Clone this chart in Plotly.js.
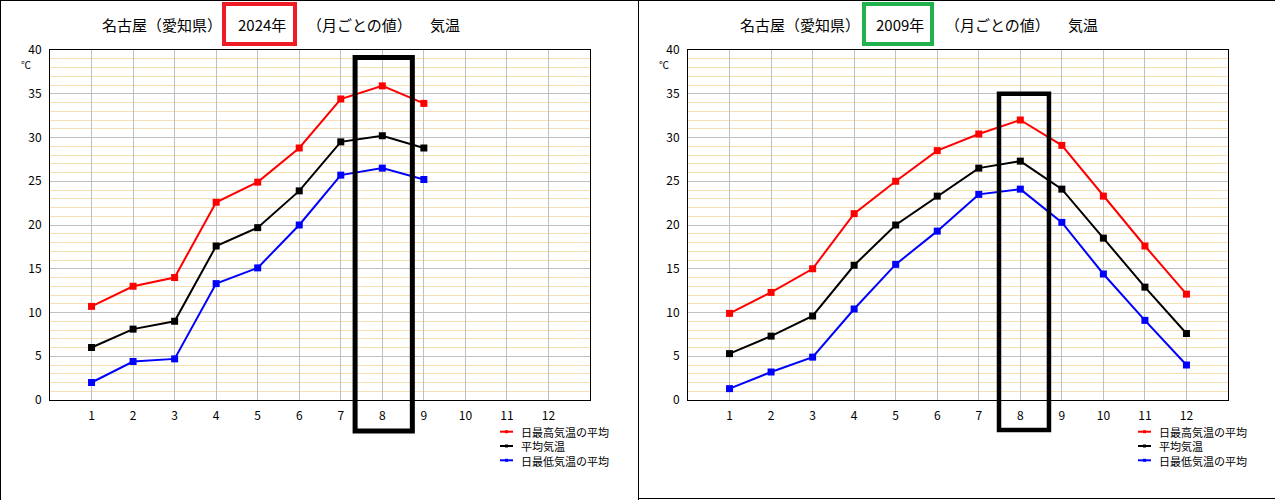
<!DOCTYPE html>
<html>
<head>
<meta charset="utf-8">
<script src="https://cdn.plot.ly/plotly-3.0.1.min.js"></script>
<style>html,body{margin:0;padding:0;background:#fff;}#chart{width:1275px;height:500px;}</style>
</head>
<body>
<div id="chart"></div>
<script>
// ---- data ----
const months = [1, 2, 3, 4, 5, 6, 7, 8, 9, 10, 11, 12];
const monthLabels = ["1", "2", "3", "4", "5", "6", "7", "8", "9", "10", "11", "12"];
const seriesNames = ["日最高気温の平均", "平均気温", "日最低気温の平均"];
const seriesColors = ["#ff0000", "#000000", "#0000ff"];

// 2024 (Jan–Sep)
const max2024 = [10.7, 13.0, 14.0, 22.6, 24.9, 28.8, 34.4, 35.9, 33.9];
const avg2024 = [6.0, 8.1, 9.0, 17.6, 19.7, 23.9, 29.5, 30.2, 28.8];
const min2024 = [2.0, 4.4, 4.7, 13.3, 15.1, 20.0, 25.7, 26.5, 25.2];

// 2009 (Jan–Dec)
const max2009 = [9.9, 12.3, 15.0, 21.3, 25.0, 28.5, 30.4, 32.0, 29.1, 23.3, 17.6, 12.1];
const avg2009 = [5.3, 7.3, 9.6, 15.4, 20.0, 23.3, 26.5, 27.3, 24.1, 18.5, 12.9, 7.6];
const min2009 = [1.3, 3.2, 4.9, 10.4, 15.5, 19.3, 23.5, 24.1, 20.3, 14.4, 9.1, 4.0];

const titleParts = ["名古屋（愛知県）", "（月ごとの値）", "気温"];
const years = ["2024年", "2009年"];
const unitLabel = "℃";
const highlightMonth = 8;

// ---- build ----
const W = 1275, H = 500;
const px = v => v / W;
const py = v => 1 - v / H;
const FONT = "Noto Sans CJK JP";

function makeTraces(seriesList, xa, ya) {
  return seriesList.map((vals, i) => ({
    type: "scatter",
    mode: "lines+markers",
    x: months.slice(0, vals.length),
    y: vals,
    name: seriesNames[i],
    xaxis: xa, yaxis: ya,
    line: {color: seriesColors[i], width: 2},
    marker: {color: seriesColors[i], symbol: "square", size: 7},
    showlegend: false,
    hoverinfo: "x+y"
  }));
}

const traces = [
  ...makeTraces([max2024, avg2024, min2024], "x", "y"),
  ...makeTraces([max2009, avg2009, min2009], "x2", "y2")
];

function xAxis(domain, anchor) {
  return {
    domain: domain, anchor: anchor,
    range: [0, 13],
    tickvals: months, ticktext: monthLabels,
    showgrid: true, gridcolor: "#c0c0c0", gridwidth: 1,
    zeroline: false, showline: true, mirror: true, linecolor: "#000", linewidth: 1,
    ticks: "", ticklabelstandoff: 5,
    tickfont: {family: FONT, size: 12, color: "#000"},
    fixedrange: true
  };
}
function yAxis(anchor) {
  return {
    domain: [0.2, 0.9], anchor: anchor,
    range: [0, 40], dtick: 5, tick0: 0,
    showgrid: true, gridcolor: "#c0c0c0", gridwidth: 1,
    minor: {dtick: 1, showgrid: true, gridcolor: "#f5dfb3", gridwidth: 1, ticks: ""},
    zeroline: false, showline: true, mirror: true, linecolor: "#000", linewidth: 1,
    ticks: "", ticklabelstandoff: 5,
    tickfont: {family: FONT, size: 12, color: "#000"},
    fixedrange: true
  };
}

const annotations = [];
const shapes = [];
const panels = [
  {off: 0, year: years[0], boxColor: "#ee1c25", xref: "x", hb: [highlightMonth - 0.655, highlightMonth + 0.723], hy: [57.5, 431], hw: 5, yb: [224, 295]},
  {off: 638, year: years[1], boxColor: "#22b14c", xref: "x2", hb: [highlightMonth - 0.513, highlightMonth + 0.69], hy: [93.7, 430], hw: 4.5, yb: [864, 932]}
];

panels.forEach(p => {
  const o = p.off;
  const tf = {family: FONT, size: 15, color: "#000"};
  annotations.push({xref: "paper", yref: "paper", x: px(o + 100), y: py(24), xanchor: "left", yanchor: "middle", text: titleParts[0], showarrow: false, font: tf});
  annotations.push({xref: "paper", yref: "paper", x: px(o + 236), y: py(24), xanchor: "left", yanchor: "middle", text: p.year, showarrow: false, font: tf});
  annotations.push({xref: "paper", yref: "paper", x: px(o + 305), y: py(24), xanchor: "left", yanchor: "middle", text: titleParts[1], showarrow: false, font: tf});
  annotations.push({xref: "paper", yref: "paper", x: px(o + 428), y: py(24), xanchor: "left", yanchor: "middle", text: titleParts[2], showarrow: false, font: tf});
  annotations.push({xref: "paper", yref: "paper", x: px(o + 26), y: py(64), xanchor: "center", yanchor: "middle", text: unitLabel, showarrow: false, font: {family: FONT, size: 10, color: "#000"}});
  // year box
  shapes.push({type: "rect", xref: "paper", yref: "paper", x0: px(p.yb[0]), x1: px(p.yb[1]), y0: py(4), y1: py(44), line: {color: p.boxColor, width: 4}});
  // highlight box around highlighted month
  shapes.push({type: "rect", xref: p.xref, yref: "paper", x0: p.hb[0], x1: p.hb[1], y0: py(p.hy[0]), y1: py(p.hy[1]), line: {color: "#000", width: p.hw}});
  // legend (one multi-line text, markers drawn beside each line)
  const lx = o + 500;
  const fs = 11, pitch = fs * 1.3, mid = 446;
  const rows = [mid - pitch, mid, mid + pitch];
  seriesNames.forEach((n, i) => {
    shapes.push({type: "line", xref: "paper", yref: "paper", x0: px(lx), x1: px(lx + 13), y0: py(rows[i]), y1: py(rows[i]), line: {color: seriesColors[i], width: 2}});
    shapes.push({type: "rect", xref: "paper", yref: "paper", x0: px(lx + 5), x1: px(lx + 8), y0: py(rows[i] - 1.5), y1: py(rows[i] + 1.5), fillcolor: seriesColors[i], line: {width: 0}});
  });
  annotations.push({xref: "paper", yref: "paper", x: px(lx + 19), y: py(mid), xanchor: "left", yanchor: "middle", align: "left", text: seriesNames.join("<br>"), showarrow: false, font: {family: FONT, size: fs, color: "#000"}});
});

// panel frames
shapes.push({type: "line", xref: "paper", yref: "paper", x0: 0, x1: 1, y0: py(0.5), y1: py(0.5), line: {color: "#000", width: 1}});
shapes.push({type: "line", xref: "paper", yref: "paper", x0: px(0.5), x1: px(0.5), y0: 0, y1: 1, line: {color: "#000", width: 1}});
shapes.push({type: "line", xref: "paper", yref: "paper", x0: px(638.5), x1: px(638.5), y0: 0, y1: 1, line: {color: "#000", width: 1}});
shapes.push({type: "line", xref: "paper", yref: "paper", x0: px(638), x1: 1, y0: py(498.5), y1: py(498.5), line: {color: "#000", width: 1}});

const layout = {
  width: W, height: H,
  margin: {l: 0, r: 0, t: 0, b: 0},
  paper_bgcolor: "#fff", plot_bgcolor: "#fff",
  showlegend: false,
  xaxis: xAxis([px(50), px(590)], "y"),
  yaxis: yAxis("x"),
  xaxis2: xAxis([px(688), px(1228)], "y2"),
  yaxis2: yAxis("x2"),
  annotations: annotations,
  shapes: shapes,
  font: {family: FONT}
};

Plotly.newPlot("chart", traces, layout, {displayModeBar: false, staticPlot: true});
</script>
</body>
</html>
